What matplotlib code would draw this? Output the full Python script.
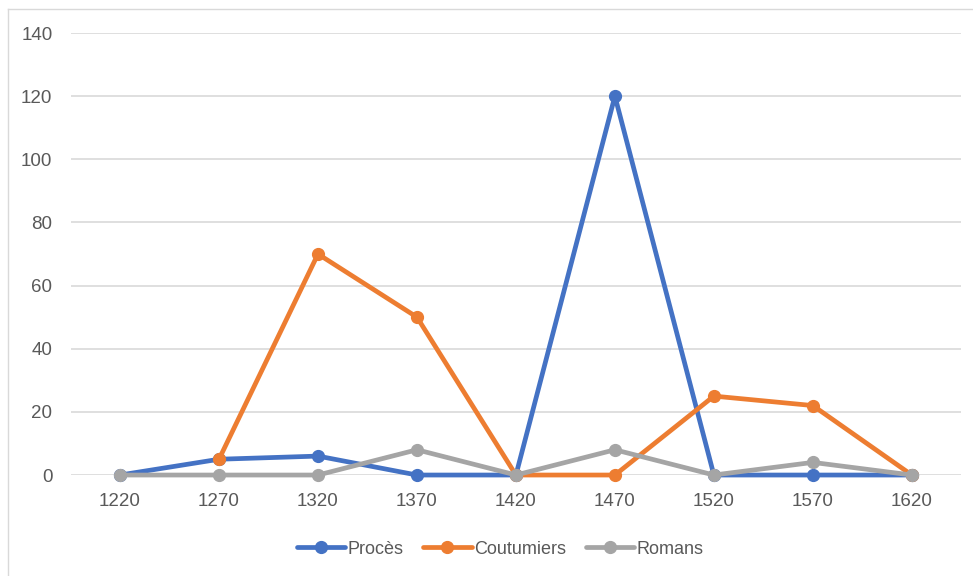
import matplotlib
matplotlib.use("Agg")
from matplotlib import pyplot as plt
from matplotlib.lines import Line2D

# données
annees = ["1220", "1270", "1320", "1370", "1420", "1470", "1520", "1570", "1620"]
proces = [0, 5, 6, 0, 0, 120, 0, 0, 0]
coutumiers = [None, 5, 70, 50, 0, 0, 25, 22, 0]
romans = [0, 0, 0, 8, 0, 8, 0, 4, 0]

series = [
    ("Procès", proces, "#4472C4"),
    ("Coutumiers", coutumiers, "#ED7D31"),
    ("Romans", romans, "#A5A5A5"),
]

plt.rcParams['font.family'] = ['Liberation Sans', 'DejaVu Sans']

fig = plt.figure(figsize=(9.73, 5.76), dpi=100)
ax = fig.add_axes([0.0725, 0.1753, 0.9155, 0.7674])

x = list(range(len(annees)))
for nom, vals, couleur in series:
    xs = [i for i, v in zip(x, vals) if v is not None]
    ys = [v for v in vals if v is not None]
    ax.plot(xs, ys, color=couleur, lw=3.4, marker='o', ms=8.5,
            solid_joinstyle='round', solid_capstyle='round', label=nom,
            clip_on=False)

ax.set_xlim(-0.5, len(annees) - 0.5)
ax.set_ylim(0, 140)
ax.set_yticks(range(0, 141, 20))
ax.set_xticks(x)
ax.set_xticklabels(annees)
ax.grid(axis='y', color='#D9D9D9', lw=1.2)
ax.set_axisbelow(True)
for s in ax.spines.values():
    s.set_visible(False)
ax.tick_params(length=0, labelsize=13.5, labelcolor='#595959')
ax.tick_params(axis='y', pad=13)
ax.tick_params(axis='x', pad=13)

leg = ax.legend(loc='upper center', bbox_to_anchor=(0.482, -0.112), ncol=3,
                frameon=False, fontsize=13, handlelength=2.7,
                handletextpad=0.1, columnspacing=1.1)
for t in leg.get_texts():
    t.set_color('#595959')

# cadre du graphique
fig.add_artist(Line2D([0.008, 1.0], [1 - 9 / 576, 1 - 9 / 576], color='#D9D9D9', lw=1))
fig.add_artist(Line2D([0.008, 0.008], [0.0, 1 - 9 / 576], color='#D9D9D9', lw=1))

fig.savefig("out.png", dpi=100)
